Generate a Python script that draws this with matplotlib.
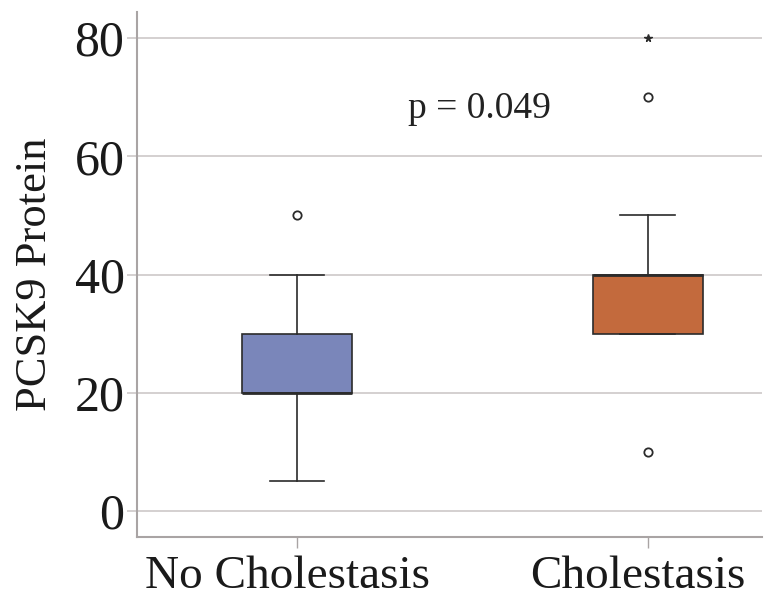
import matplotlib.pyplot as plt
import matplotlib.transforms as mtransforms

plt.rcParams['font.family'] = ['Liberation Serif', 'DejaVu Serif']

groups = ['No Cholestasis', 'Cholestasis']
whislo = [5, 30]
q1 = [20, 30]
med = [20, 40]
q3 = [30, 40]
whishi = [40, 50]
outliers_circle = [[50], [70, 10]]
outliers_star = [[], [80]]
box_colors = ['#7a86ba', '#c36a3d']
p_text = 'p = 0.049'

stats = []
for i, g in enumerate(groups):
    stats.append({'label': g, 'whislo': whislo[i], 'q1': q1[i], 'med': med[i],
                  'q3': q3[i], 'whishi': whishi[i], 'fliers': outliers_circle[i]})

fig = plt.figure(figsize=(7.79, 6.07), dpi=100)
ax = fig.add_axes([137 / 779, 1 - 537 / 607, 625 / 779, 525 / 607])

ax.set_axisbelow(True)
ax.grid(axis='y', color='#cdc8c8', linewidth=1.2)

bp = ax.bxp(stats, positions=[1, 2], widths=0.313, patch_artist=True,
            boxprops=dict(edgecolor='#2b2b2b', linewidth=1.2),
            medianprops=dict(color='#2b2b2b', linewidth=2.0),
            whiskerprops=dict(color='#2b2b2b', linewidth=1.2),
            capprops=dict(color='#2b2b2b', linewidth=1.2),
            flierprops=dict(marker='o', markersize=6, markerfacecolor='white',
                            markeredgecolor='#2b2b2b', markeredgewidth=1.3))
for patch, c in zip(bp['boxes'], box_colors):
    patch.set_facecolor(c)

for i, vals in enumerate(outliers_star):
    if vals:
        ax.plot([i + 1] * len(vals), vals, linestyle='none', marker='*',
                markersize=5.5, color='#2b2b2b')

ax.text(1.52, 68, p_text, fontsize=27, ha='center', va='center', color='#222222')

ax.set_xlim(0.544, 2.325)
ax.set_ylim(-4.4, 84.4)
ax.set_yticks([0, 20, 40, 60, 80])
ax.set_xticks([1, 2])
ax.set_xticklabels(groups)
ax.set_ylabel('PCSK9 Protein', fontsize=32, color='#1a1a1a', labelpad=14)

for s in ['top', 'right']:
    ax.spines[s].set_visible(False)
for s in ['left', 'bottom']:
    ax.spines[s].set_color('#a9a4a4')
    ax.spines[s].set_linewidth(1.5)

ax.tick_params(axis='y', labelsize=36, length=7, color='#cdc8c8', width=1.2,
               labelcolor='#1a1a1a', pad=2)
ax.tick_params(axis='x', labelsize=34, length=8, color='#a9a4a4', width=1.0,
               labelcolor='#1a1a1a', pad=5)

# labels sit a little left of their ticks in the original
shift = mtransforms.ScaledTranslation(-10 / 100, 0, fig.dpi_scale_trans)
for lbl in ax.get_xticklabels():
    lbl.set_transform(lbl.get_transform() + shift)

fig.savefig('out.png', dpi=100)
